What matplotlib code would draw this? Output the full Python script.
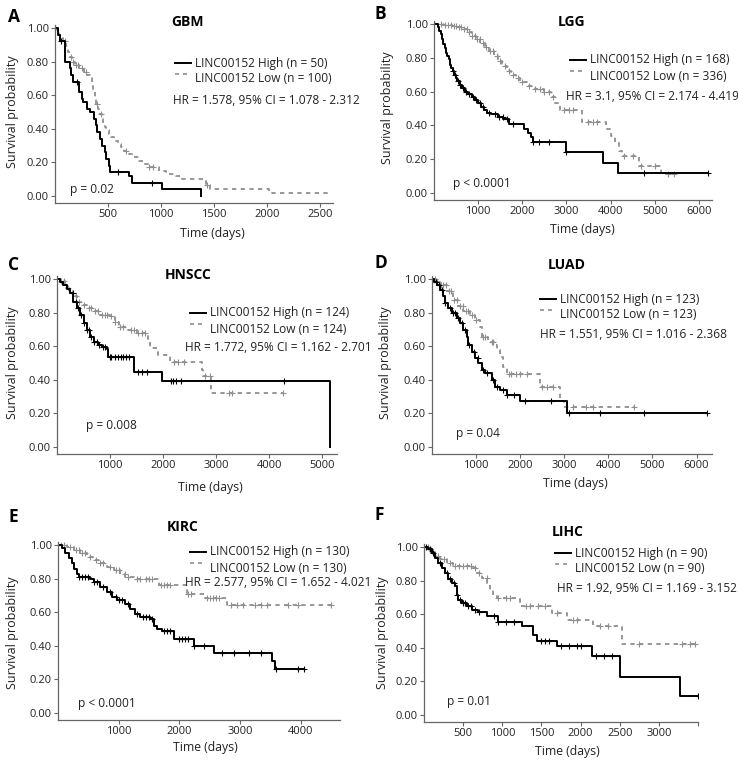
import numpy as np
import matplotlib
matplotlib.use("Agg")
import matplotlib.pyplot as plt
from matplotlib.lines import Line2D

plt.rcParams['font.family'] = ['Open Sans', 'DejaVu Sans']

# ---- data (time in days, survival probability) ----
# GBM
gbm_high_t = [0, 30, 50, 90, 140, 150, 170, 230, 250, 265, 300, 330, 365, 385, 400, 420, 445, 470, 485, 505, 520, 700, 730, 1010, 1380]
gbm_high_s = [1.0, 0.96, 0.92, 0.80, 0.76, 0.72, 0.68, 0.62, 0.58, 0.56, 0.52, 0.50, 0.46, 0.42, 0.38, 0.34, 0.30, 0.26, 0.22, 0.18, 0.14, 0.12, 0.08, 0.04, 0.0]
gbm_high_c = [60, 210, 590, 910]
gbm_low_t = [0, 20, 40, 60, 80, 100, 120, 140, 160, 190, 230, 270, 300, 330, 345, 360, 375, 390, 405, 420, 440, 455, 470, 485, 505, 530, 560, 590, 620, 650, 700, 740, 790, 840, 890, 980, 1050, 1140, 1200, 1420, 1460, 2020, 2580]
gbm_low_s = [1.0, 0.98, 0.96, 0.94, 0.92, 0.89, 0.86, 0.83, 0.80, 0.78, 0.76, 0.74, 0.72, 0.70, 0.66, 0.62, 0.58, 0.55, 0.52, 0.49, 0.46, 0.43, 0.41, 0.39, 0.37, 0.35, 0.33, 0.31, 0.29, 0.27, 0.25, 0.23, 0.21, 0.19, 0.17, 0.15, 0.13, 0.12, 0.10, 0.065, 0.04, 0.02, 0.02]
gbm_low_c = [90, 150, 170, 200, 220, 250, 290, 400, 430, 665, 890, 920, 1430]

# LGG
lgg_high_t = [0, 90, 120, 150, 180, 210, 240, 270, 300, 330, 360, 390, 420, 450, 490, 530, 580, 640, 700, 780, 850, 920, 990, 1060, 1130, 1200, 1300, 1450, 1570, 1700, 2050, 2130, 2200, 2250, 3000, 3820, 4160, 6200]
lgg_high_s = [1.0, 0.98, 0.96, 0.94, 0.91, 0.88, 0.86, 0.83, 0.81, 0.79, 0.76, 0.74, 0.72, 0.70, 0.68, 0.66, 0.64, 0.62, 0.60, 0.585, 0.57, 0.55, 0.53, 0.51, 0.49, 0.475, 0.465, 0.45, 0.435, 0.41, 0.38, 0.355, 0.33, 0.30, 0.24, 0.18, 0.12, 0.12]
lgg_high_c = [420, 480, 540, 600, 660, 720, 800, 880, 960, 1040, 1120, 1250, 1380, 1480, 1560, 1650, 1800, 2250, 2380, 2600, 3000, 4750, 6200]
lgg_low_t = [0, 200, 400, 550, 650, 750, 850, 950, 1050, 1150, 1250, 1350, 1450, 1550, 1650, 1750, 1850, 1950, 2100, 2300, 2500, 2650, 2750, 2850, 3350, 3900, 4000, 4100, 4200, 4250, 4650, 5150, 5450]
lgg_low_s = [1.0, 0.995, 0.99, 0.98, 0.97, 0.95, 0.93, 0.91, 0.89, 0.865, 0.84, 0.81, 0.78, 0.75, 0.72, 0.70, 0.68, 0.655, 0.635, 0.615, 0.60, 0.57, 0.53, 0.49, 0.42, 0.38, 0.34, 0.30, 0.25, 0.22, 0.16, 0.11, 0.11]
lgg_low_c = [150, 250, 320, 380, 450, 500, 560, 620, 680, 740, 800, 860, 920, 980, 1040, 1100, 1180, 1260, 1340, 1420, 1500, 1600, 1700, 1800, 1900, 2000, 2150, 2300, 2400, 2500, 2600, 2700, 2950, 3050, 3150, 3500, 3600, 3700, 4300, 4500, 4700, 5000, 5300, 5450]

# HNSCC
hnscc_high_t = [0, 60, 120, 180, 245, 310, 370, 430, 500, 560, 620, 690, 780, 850, 940, 970, 1450, 1975, 5150]
hnscc_high_s = [1.0, 0.985, 0.966, 0.94, 0.916, 0.866, 0.827, 0.787, 0.737, 0.697, 0.657, 0.627, 0.608, 0.598, 0.582, 0.534, 0.448, 0.394, 0.0]
hnscc_high_c = [300, 350, 400, 450, 500, 560, 600, 650, 700, 750, 800, 870, 900, 1000, 1020, 1100, 1150, 1200, 1250, 1300, 1350, 1520, 1600, 1700, 2150, 2180, 2250, 2330, 4280]
hnscc_low_t = [0, 60, 150, 245, 310, 370, 465, 560, 690, 810, 1000, 1090, 1160, 1320, 1500, 1720, 1750, 1910, 2130, 2730, 2760, 2900, 4270]
hnscc_low_s = [1.0, 0.986, 0.946, 0.916, 0.896, 0.866, 0.847, 0.827, 0.807, 0.787, 0.777, 0.747, 0.717, 0.697, 0.677, 0.637, 0.588, 0.548, 0.508, 0.458, 0.422, 0.32, 0.32]
hnscc_low_c = [80, 130, 200, 280, 350, 420, 500, 600, 650, 720, 780, 840, 900, 950, 1020, 1100, 1180, 1250, 1400, 1450, 1520, 1600, 1650, 2200, 2280, 2400, 2800, 2880, 3250, 3300, 4270]

# LUAD
luad_high_t = [0, 50, 106, 182, 257, 295, 371, 447, 560, 636, 712, 787, 825, 901, 977, 1052, 1128, 1204, 1355, 1431, 1544, 1696, 1998, 3058, 6240]
luad_high_s = [1.0, 0.985, 0.966, 0.936, 0.896, 0.857, 0.827, 0.797, 0.767, 0.737, 0.697, 0.657, 0.608, 0.568, 0.528, 0.498, 0.458, 0.438, 0.398, 0.357, 0.339, 0.309, 0.275, 0.20, 0.20]
luad_high_c = [80, 150, 220, 300, 400, 480, 530, 600, 680, 750, 850, 950, 1050, 1150, 1250, 1380, 1480, 1600, 1700, 1850, 2100, 2700, 3100, 3800, 4800, 6240]
luad_low_t = [0, 100, 182, 333, 484, 598, 712, 863, 977, 1090, 1128, 1279, 1431, 1469, 1544, 1620, 1696, 2453, 2907, 2983, 4570]
luad_low_s = [1.0, 0.98, 0.966, 0.926, 0.876, 0.837, 0.807, 0.787, 0.757, 0.717, 0.657, 0.627, 0.608, 0.578, 0.538, 0.478, 0.434, 0.359, 0.275, 0.239, 0.239]
luad_low_c = [60, 120, 200, 260, 320, 380, 440, 500, 560, 640, 700, 760, 820, 900, 1000, 1150, 1200, 1350, 1380, 1750, 1800, 1900, 2000, 2150, 2500, 2600, 2750, 3200, 3500, 3650, 4570]

# KIRC
kirc_high_t = [0, 66, 121, 176, 231, 258, 313, 341, 533, 588, 698, 808, 891, 973, 1111, 1193, 1276, 1358, 1523, 1578, 1633, 1716, 1908, 2238, 2568, 3531, 3586, 4053]
kirc_high_s = [1.0, 0.98, 0.95, 0.92, 0.89, 0.86, 0.83, 0.81, 0.80, 0.78, 0.75, 0.72, 0.69, 0.67, 0.65, 0.62, 0.59, 0.57, 0.56, 0.52, 0.50, 0.49, 0.44, 0.40, 0.36, 0.31, 0.26, 0.26]
kirc_high_c = [350, 400, 450, 500, 600, 650, 750, 850, 950, 1000, 1050, 1150, 1300, 1400, 1450, 1500, 1550, 1750, 1800, 1850, 2000, 2050, 2100, 2150, 2250, 2400, 2700, 2900, 3150, 3350, 3600, 3950, 4053]
kirc_low_t = [0, 149, 259, 369, 479, 589, 699, 809, 919, 1029, 1111, 1249, 1661, 2129, 2404, 2789, 4494]
kirc_low_s = [1.0, 0.99, 0.97, 0.95, 0.93, 0.91, 0.89, 0.87, 0.85, 0.83, 0.81, 0.80, 0.76, 0.71, 0.686, 0.64, 0.64]
kirc_low_c = [50, 100, 200, 300, 350, 400, 450, 520, 620, 700, 750, 850, 950, 1000, 1100, 1150, 1300, 1350, 1450, 1500, 1550, 1700, 1750, 1800, 1850, 2150, 2200, 2450, 2500, 2550, 2600, 2650, 2850, 2950, 3050, 3250, 3350, 3450, 3800, 3950, 4494]

# LIHC
lihc_high_t = [0, 55, 98, 141, 183, 226, 268, 311, 354, 396, 417, 439, 481, 545, 609, 694, 801, 950, 1248, 1397, 1440, 1695, 2143, 2505, 3272, 3506]
lihc_high_s = [1.0, 0.986, 0.966, 0.936, 0.906, 0.876, 0.847, 0.807, 0.787, 0.767, 0.717, 0.687, 0.667, 0.647, 0.627, 0.613, 0.588, 0.554, 0.528, 0.478, 0.438, 0.412, 0.349, 0.229, 0.114, 0.114]
lihc_high_c = [30, 80, 120, 200, 300, 330, 380, 420, 460, 500, 520, 560, 600, 650, 700, 900, 950, 1050, 1150, 1500, 1550, 1600, 1750, 1850, 1950, 2000, 2200, 2300, 2400, 3506]
lihc_low_t = [0, 77, 141, 204, 290, 375, 630, 673, 737, 801, 843, 886, 929, 1227, 1632, 1823, 2164, 2535, 3463]
lihc_low_s = [1.0, 0.976, 0.946, 0.926, 0.906, 0.886, 0.876, 0.847, 0.817, 0.777, 0.747, 0.717, 0.697, 0.647, 0.608, 0.568, 0.528, 0.422, 0.422]
lihc_low_c = [50, 100, 180, 250, 330, 400, 450, 500, 550, 600, 650, 700, 800, 950, 1050, 1100, 1300, 1350, 1450, 1550, 1700, 1900, 1950, 2250, 2350, 2750, 3300, 3400, 3463]

letters = ['A', 'B', 'C', 'D', 'E', 'F']
titles = ['GBM', 'LGG', 'HNSCC', 'LUAD', 'KIRC', 'LIHC']
n_high = [50, 168, 124, 123, 130, 90]
n_low = [100, 336, 124, 123, 130, 90]
hr_text = ['HR = 1.578, 95% CI = 1.078 - 2.312',
           'HR = 3.1, 95% CI = 2.174 - 4.419',
           'HR = 1.772, 95% CI = 1.162 - 2.701',
           'HR = 1.551, 95% CI = 1.016 - 2.368',
           'HR = 2.577, 95% CI = 1.652 - 4.021',
           'HR = 1.92, 95% CI = 1.169 - 3.152']
p_text = ['p = 0.02', 'p < 0.0001', 'p = 0.008', 'p = 0.04', 'p < 0.0001', 'p = 0.01']
x_ticks = [[500, 1000, 1500, 2000, 2500],
           [1000, 2000, 3000, 4000, 5000, 6000],
           [1000, 2000, 3000, 4000, 5000],
           [1000, 2000, 3000, 4000, 5000, 6000],
           [1000, 2000, 3000, 4000],
           [500, 1000, 1500, 2000, 2500, 3000, 3500]]

curves = [
    (gbm_high_t, gbm_high_s, gbm_high_c, gbm_low_t, gbm_low_s, gbm_low_c),
    (lgg_high_t, lgg_high_s, lgg_high_c, lgg_low_t, lgg_low_s, lgg_low_c),
    (hnscc_high_t, hnscc_high_s, hnscc_high_c, hnscc_low_t, hnscc_low_s, hnscc_low_c),
    (luad_high_t, luad_high_s, luad_high_c, luad_low_t, luad_low_s, luad_low_c),
    (kirc_high_t, kirc_high_s, kirc_high_c, kirc_low_t, kirc_low_s, kirc_low_c),
    (lihc_high_t, lihc_high_s, lihc_high_c, lihc_low_t, lihc_low_s, lihc_low_c),
]

# ---- layout, in pixels of the 738x763 picture ----
W, H = 738, 763
# x of t=0, x of right end, x max (days), y of 1.00, y of 0.00
geo = [(55, 333, 2620, 28, 196),
       (434, 712, 6300, 24, 193),
       (57, 337, 5280, 279, 447),
       (432, 712, 6350, 279, 447),
       (58, 340, 4650, 545, 713),
       (424, 698, 3500, 547, 715)]
# letter, title, legend line start, HR pos, p pos, xlabel pos, ylabel pos
txt = [((8, 17), (188, 22), (175, 63), (173, 100), (70, 190), (212, 233), (13, 112)),
       ((374, 14), (572, 22), (570, 60), (566, 97), (453, 183), (582, 230), (387, 108)),
       ((8, 265), (188, 275), (190, 313), (185, 347), (86, 425), (210, 487), (13, 363)),
       ((374, 263), (567, 265), (540, 299), (540, 335), (456, 433), (575, 483), (385, 363)),
       ((8, 517), (183, 527), (190, 552), (185, 582), (78, 703), (205, 748), (13, 633)),
       ((374, 515), (568, 532), (555, 553), (557, 588), (447, 702), (567, 752), (382, 633))]

fig = plt.figure(figsize=(W / 100, H / 100), dpi=100)

def fx(x):
    return x / W

def fy(y):
    return 1 - y / H

high_col = 'black'
low_col = '#8f8f8f'
txt_col = '#222222'
fs = 8
fs_leg = 8.6

for i in range(6):
    x0, x1, xmax, y1, y0 = geo[i]
    span = y0 - y1
    top = y1 - 0.02 * span
    bot = y0 + 0.04 * span
    ax = fig.add_axes([fx(x0), fy(bot), (x1 - x0) / W, (bot - top) / H])
    ht, hs, hc, lt, ls, lc = curves[i]

    ax.step(lt, ls, where='post', color=low_col, lw=1.3, dashes=(2.4, 2.4))
    ls_arr = np.array(ls)
    cy = ls_arr[np.searchsorted(lt, lc, side='right') - 1]
    ax.plot(lc, cy, '+', color=low_col, ms=5, mew=0.8)

    ax.step(ht, hs, where='post', color=high_col, lw=1.4)
    hs_arr = np.array(hs)
    cy = hs_arr[np.searchsorted(ht, hc, side='right') - 1]
    ax.plot(hc, cy, '+', color=high_col, ms=5, mew=0.8)

    ax.set_xlim(0, xmax)
    ax.set_ylim(-0.04, 1.02)
    ax.set_yticks([0, 0.2, 0.4, 0.6, 0.8, 1.0])
    ax.set_yticklabels(['0.00', '0.20', '0.40', '0.60', '0.80', '1.00'])
    ax.set_xticks(x_ticks[i])
    labs = [str(v) for v in x_ticks[i]]
    if i == 5:
        labs[-1] = ''
    ax.set_xticklabels(labs)
    for s in ['top', 'right']:
        ax.spines[s].set_visible(False)
    for s in ['left', 'bottom']:
        ax.spines[s].set_color('#666666')
        ax.spines[s].set_linewidth(0.9)
    ax.tick_params(direction='out', length=3, width=0.8, color='#666666',
                   labelsize=fs, labelcolor=txt_col, pad=1.5)

    let, ttl, leg, hr, pp, xl, yl = txt[i]
    fig.text(fx(let[0]), fy(let[1]), letters[i], fontsize=12.5, fontweight='bold', va='center', ha='left')
    fig.text(fx(ttl[0]), fy(ttl[1]), titles[i], fontsize=10, fontweight='bold', va='center', ha='center')
    lx, ly = leg
    row2 = ly + 16
    fig.add_artist(Line2D([fx(lx), fx(lx + 16)], [fy(ly), fy(ly)], color=high_col, lw=1.4))
    fig.add_artist(Line2D([fx(lx), fx(lx + 16)], [fy(row2 - 5), fy(row2 - 5)], color=low_col, lw=1.2,
                          dashes=(2.4, 2.4)))
    fig.text(fx(lx + 20), fy(ly), 'LINC00152 High (n = %d)' % n_high[i], fontsize=fs_leg, va='center', color=txt_col)
    fig.text(fx(lx + 20), fy(row2), 'LINC00152 Low (n = %d)' % n_low[i], fontsize=fs_leg, va='center', color=txt_col)
    fig.text(fx(hr[0]), fy(hr[1]), hr_text[i], fontsize=fs_leg, va='center', color=txt_col)
    fig.text(fx(pp[0]), fy(pp[1]), p_text[i], fontsize=fs_leg, va='center', color=txt_col)
    fig.text(fx(xl[0]), fy(xl[1]), 'Time (days)', fontsize=fs + 0.8, va='center', ha='center', color=txt_col)
    fig.text(fx(yl[0]), fy(yl[1]), 'Survival probability', fontsize=fs + 1, va='center', ha='center',
             rotation=90, color=txt_col)

fig.savefig('out.png', dpi=100)
